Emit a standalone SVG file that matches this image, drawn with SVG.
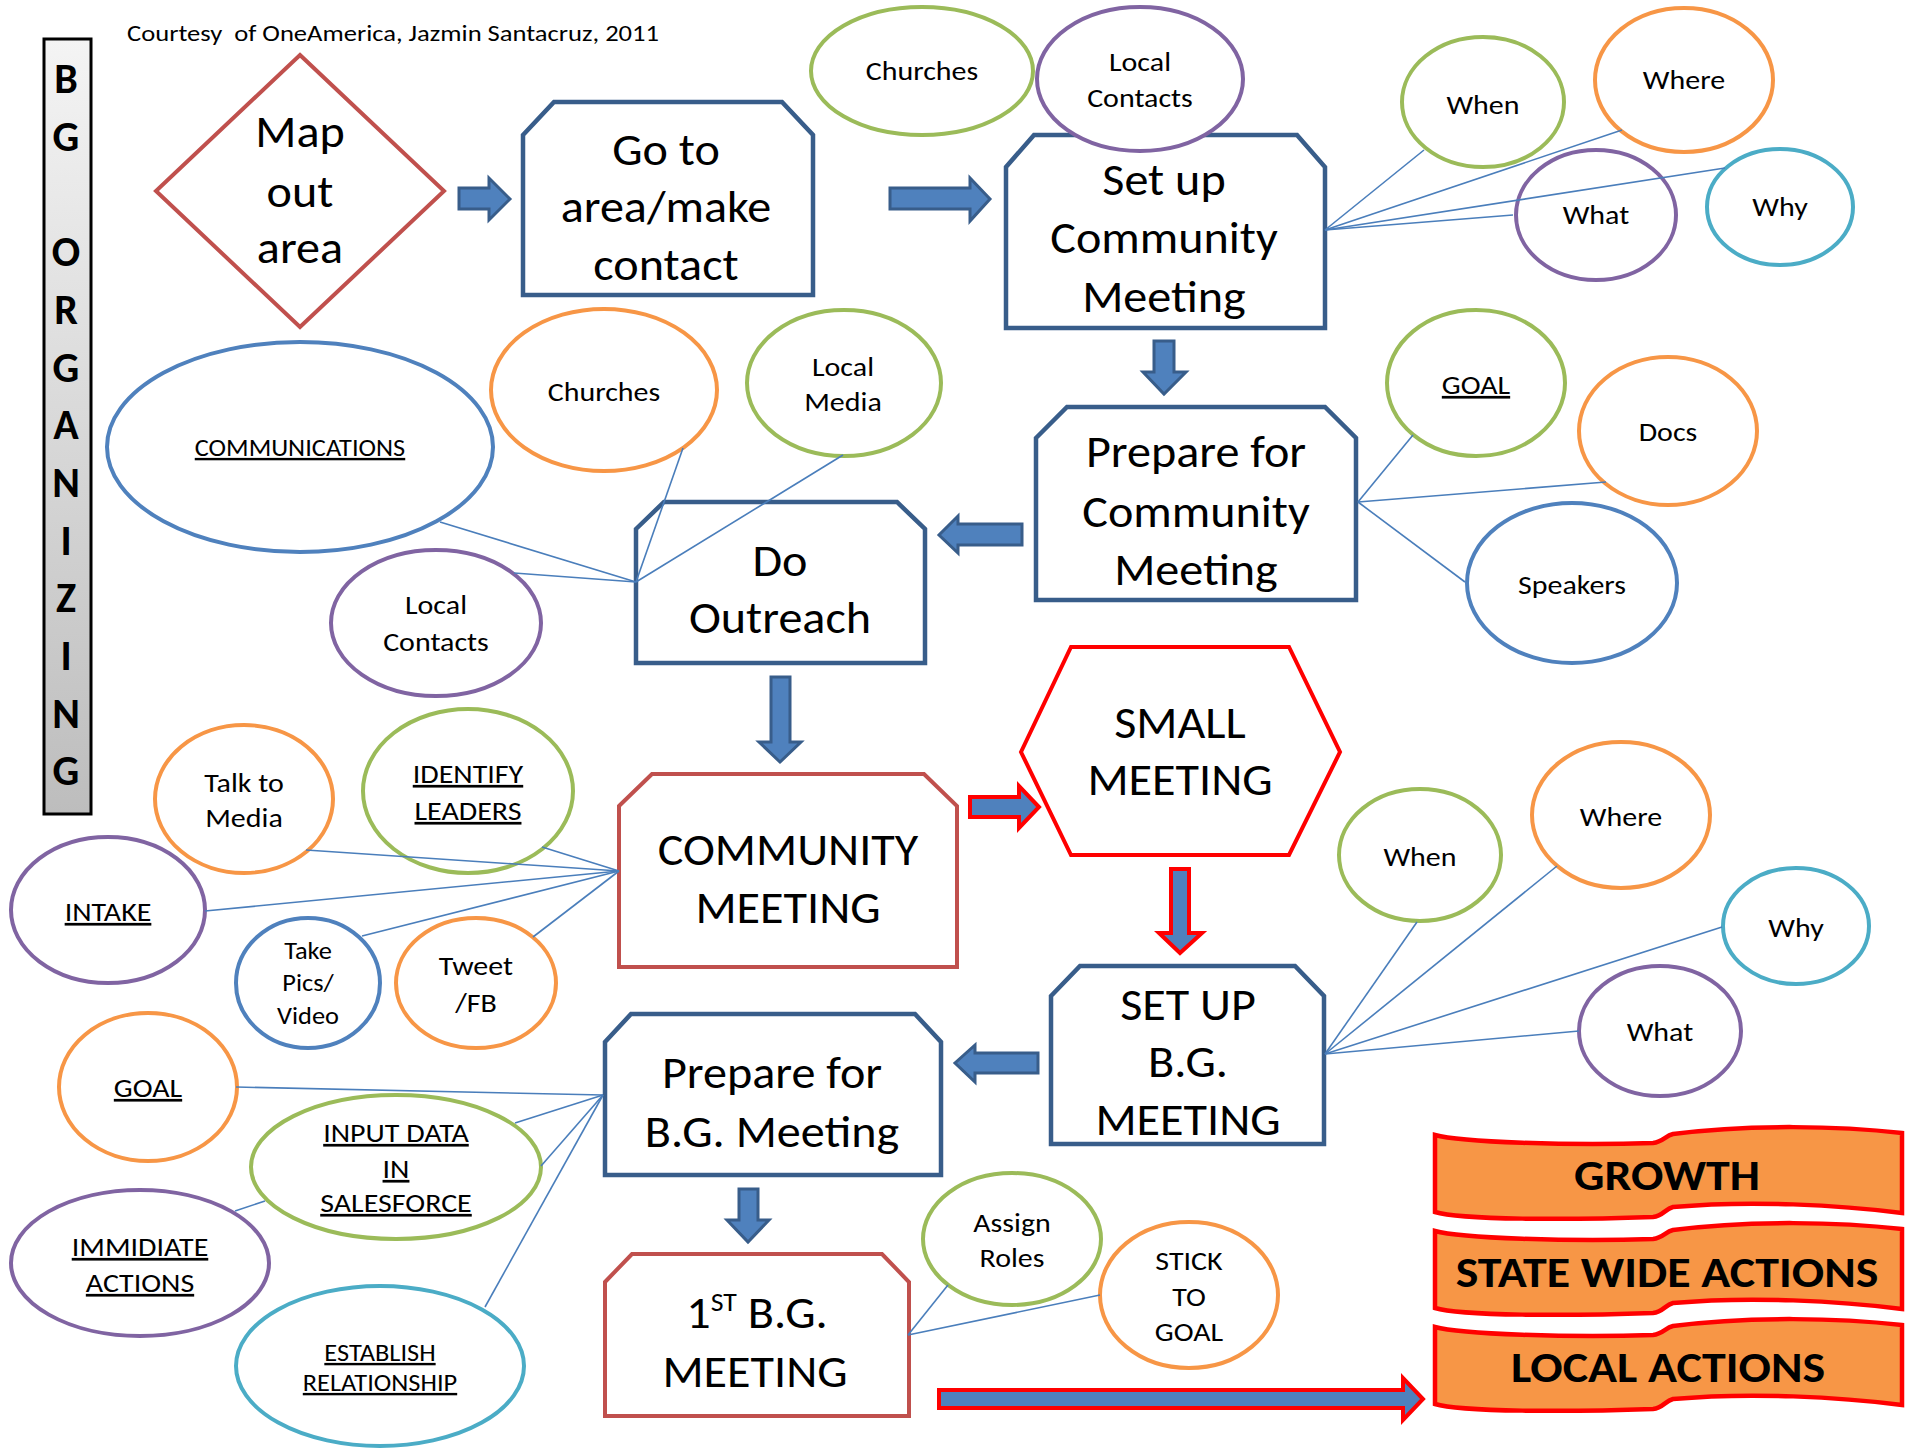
<svg xmlns="http://www.w3.org/2000/svg" width="1912" height="1453" viewBox="0 0 1912 1453">
<defs>
<linearGradient id="barg" x1="0" y1="0" x2="0" y2="1">
<stop offset="0" stop-color="#F4F4F4"/>
<stop offset="1" stop-color="#BDBDBD"/>
</linearGradient>
<path id="banner" d="M15,15 C40,22 150,26 233,23 C243,22 245,16 253,14 C330,4 420,6 482,13 L482,93 C420,85 330,80 253,87 C245,89 243,96 233,97 C150,100 40,100 15,92 Z"/>
</defs>
<style>
text{font-family:Carlito,Lato,"Liberation Sans",sans-serif;fill:#000;text-anchor:middle}
.big,.lbl,.sm,.ban{transform-box:fill-box;transform-origin:center}
.big{font-size:45px;transform:scaleX(1.07)}
.lbl{font-size:27px;transform:scaleX(1.11)}
.sm{font-size:24px;transform:scaleX(1.1)}
.u{text-decoration:underline}
.bar{font-size:42px;font-weight:bold}
.ban{font-size:42px;font-weight:bold;transform:scaleX(1.14)}
.bbox{fill:#fff;stroke:#385D8A;stroke-width:4.5}
.rbox{fill:#fff;stroke:#C0504D;stroke-width:4}
.ell{fill:#fff;stroke-width:4}
.g{stroke:#9BBB59}.p{stroke:#8064A2}.o{stroke:#F79646}.b{stroke:#4F81BD}.t{stroke:#4BACC6}
.arr{fill:#4F81BD;stroke:#385D8A;stroke-width:3}
.rarr{fill:#4F81BD;stroke:#FF0000;stroke-width:4}
.con line{stroke:#4A7EBB;stroke-width:1.6}
.bn{fill:#F79646;stroke:#FF0000;stroke-width:4.5}
</style>
<rect width="1912" height="1453" fill="#fff"/>

<text x="127" y="41" xml:space="preserve" style="font-size:22px;text-anchor:start;white-space:pre" textLength="532" lengthAdjust="spacingAndGlyphs">Courtesy  of OneAmerica, Jazmin Santacruz, 2011</text>

<g id="bg-organizing">
<rect x="44" y="39" width="47" height="775" fill="url(#barg)" stroke="#000" stroke-width="3"/>
<text class="bar" x="66" y="93">B</text>
<text class="bar" x="66" y="151">G</text>
<text class="bar" x="66" y="266">O</text>
<text class="bar" x="66" y="324">R</text>
<text class="bar" x="66" y="382">G</text>
<text class="bar" x="66" y="439">A</text>
<text class="bar" x="66" y="497">N</text>
<text class="bar" x="66" y="555">I</text>
<text class="bar" x="66" y="612">Z</text>
<text class="bar" x="66" y="670">I</text>
<text class="bar" x="66" y="728">N</text>
<text class="bar" x="66" y="785">G</text>
</g>

<g id="map-out-area">
<polygon class="rbox" points="300,55 444,191 300,327 156,191"/>
<text class="big" x="300" y="147">Map</text>
<text class="big" x="300" y="207">out</text>
<text class="big" x="300" y="263">area</text>
</g>

<g id="go-to-area">
<path class="bbox" d="M523,135 L554,102 L782,102 L813,135 L813,295 L523,295 Z"/>
<text class="big" x="666" y="165">Go to</text>
<text class="big" x="666" y="222">area/make</text>
<text class="big" x="666" y="280">contact</text>
</g>

<g id="churches-top">
<ellipse class="ell g" cx="922" cy="71" rx="111" ry="64"/>
<text class="lbl" x="922" y="80">Churches</text>
</g>

<g id="setup-community-meeting">
<path class="bbox" d="M1006,167 L1034,135 L1297,135 L1325,167 L1325,328 L1006,328 Z"/>
<text class="big" x="1164" y="195">Set up</text>
<text class="big" x="1164" y="253">Community</text>
<text class="big" x="1164" y="312">Meeting</text>
</g>

<g id="local-contacts-top">
<ellipse class="ell p" cx="1140" cy="79" rx="103" ry="72"/>
<text class="lbl" x="1140" y="71">Local</text>
<text class="lbl" x="1140" y="107">Contacts</text>
</g>

<g id="when-1"><ellipse class="ell g" cx="1483" cy="102" rx="81" ry="65"/><text class="lbl" x="1483" y="114">When</text></g>
<g id="where-1"><ellipse class="ell o" cx="1684" cy="80" rx="89" ry="72"/><text class="lbl" x="1684" y="89">Where</text></g>
<g id="what-1"><ellipse class="ell p" cx="1596" cy="215" rx="80" ry="65"/><text class="lbl" x="1596" y="224">What</text></g>
<g id="why-1"><ellipse class="ell t" cx="1780" cy="207" rx="73" ry="58"/><text class="lbl" x="1780" y="216">Why</text></g>

<g id="prepare-community-meeting">
<path class="bbox" d="M1036,438 L1067,407 L1325,407 L1356,438 L1356,600 L1036,600 Z"/>
<text class="big" x="1196" y="467">Prepare for</text>
<text class="big" x="1196" y="527">Community</text>
<text class="big" x="1196" y="585">Meeting</text>
</g>

<g id="goal-1"><ellipse class="ell g" cx="1476" cy="383" rx="89" ry="73"/><text class="lbl u" x="1476" y="394">GOAL</text></g>
<g id="docs"><ellipse class="ell o" cx="1668" cy="431" rx="89" ry="74"/><text class="lbl" x="1668" y="441">Docs</text></g>
<g id="speakers"><ellipse class="ell b" cx="1572" cy="583" rx="105" ry="80"/><text class="lbl" x="1572" y="594">Speakers</text></g>

<g id="communications"><ellipse class="ell b" cx="300" cy="447" rx="193" ry="105"/><text class="sm u" x="300" y="456">COMMUNICATIONS</text></g>
<g id="churches"><ellipse class="ell o" cx="604" cy="390" rx="113" ry="81"/><text class="lbl" x="604" y="401">Churches</text></g>
<g id="local-media"><ellipse class="ell g" cx="844" cy="383" rx="97" ry="73"/><text class="lbl" x="843" y="376">Local</text><text class="lbl" x="843" y="411">Media</text></g>
<g id="local-contacts"><ellipse class="ell p" cx="436" cy="623" rx="105" ry="73"/><text class="lbl" x="436" y="614">Local</text><text class="lbl" x="436" y="651">Contacts</text></g>

<g id="do-outreach">
<path class="bbox" d="M636,529 L664,502 L897,502 L925,529 L925,663 L636,663 Z"/>
<text class="big" x="780" y="576">Do</text>
<text class="big" x="780" y="633">Outreach</text>
</g>

<g id="community-meeting">
<path class="rbox" d="M619,806 L652,774 L924,774 L957,806 L957,967 L619,967 Z"/>
<text class="big" x="788" y="865">COMMUNITY</text>
<text class="big" x="788" y="923">MEETING</text>
</g>

<g id="talk-to-media"><ellipse class="ell o" cx="244" cy="799" rx="89" ry="74"/><text class="lbl" x="244" y="792">Talk to</text><text class="lbl" x="244" y="827">Media</text></g>
<g id="identify-leaders"><ellipse class="ell g" cx="468" cy="791" rx="105" ry="82"/><text class="lbl u" x="468" y="783">IDENTIFY</text><text class="lbl u" x="468" y="820">LEADERS</text></g>
<g id="intake"><ellipse class="ell p" cx="108" cy="910" rx="97" ry="73"/><text class="lbl u" x="108" y="921">INTAKE</text></g>
<g id="take-pics"><ellipse class="ell b" cx="308" cy="983" rx="72" ry="65"/><text class="sm" x="308" y="959">Take</text><text class="sm" x="308" y="991">Pics/</text><text class="sm" x="308" y="1024">Video</text></g>
<g id="tweet-fb"><ellipse class="ell o" cx="476" cy="983" rx="80" ry="65"/><text class="lbl" x="476" y="975">Tweet</text><text class="lbl" x="476" y="1012">/FB</text></g>

<g id="small-meeting">
<polygon points="1021,752 1071,647 1289,647 1340,752 1289,855 1071,855" fill="#fff" stroke="#FF0000" stroke-width="4"/>
<text class="big" x="1180" y="738">SMALL</text>
<text class="big" x="1180" y="795">MEETING</text>
</g>

<g id="setup-bg-meeting">
<path class="bbox" d="M1051,996 L1080,966 L1295,966 L1324,996 L1324,1144 L1051,1144 Z"/>
<text class="big" x="1188" y="1020">SET UP</text>
<text class="big" x="1188" y="1077">B.G.</text>
<text class="big" x="1188" y="1135">MEETING</text>
</g>

<g id="when-2"><ellipse class="ell g" cx="1420" cy="855" rx="81" ry="66"/><text class="lbl" x="1420" y="866">When</text></g>
<g id="where-2"><ellipse class="ell o" cx="1621" cy="815" rx="89" ry="73"/><text class="lbl" x="1621" y="826">Where</text></g>
<g id="why-2"><ellipse class="ell t" cx="1796" cy="926" rx="73" ry="58"/><text class="lbl" x="1796" y="937">Why</text></g>
<g id="what-2"><ellipse class="ell p" cx="1660" cy="1031" rx="81" ry="65"/><text class="lbl" x="1660" y="1041">What</text></g>

<g id="prepare-bg-meeting">
<path class="bbox" d="M605,1042 L631,1014 L915,1014 L941,1042 L941,1175 L605,1175 Z"/>
<text class="big" x="772" y="1088">Prepare for</text>
<text class="big" x="772" y="1147">B.G. Meeting</text>
</g>

<g id="goal-2"><ellipse class="ell o" cx="148" cy="1087" rx="89" ry="74"/><text class="lbl u" x="148" y="1097">GOAL</text></g>
<g id="input-data"><ellipse class="ell g" cx="396" cy="1167" rx="145" ry="72"/><text class="lbl u" x="396" y="1142">INPUT DATA</text><text class="lbl u" x="396" y="1178">IN</text><text class="lbl u" x="396" y="1212">SALESFORCE</text></g>
<g id="immidiate-actions"><ellipse class="ell p" cx="140" cy="1263" rx="129" ry="73"/><text class="lbl u" x="140" y="1256">IMMIDIATE</text><text class="lbl u" x="140" y="1292">ACTIONS</text></g>
<g id="establish-relationship"><ellipse class="ell t" cx="380" cy="1366" rx="144" ry="80"/><text class="sm u" x="380" y="1361">ESTABLISH</text><text class="sm u" x="380" y="1391">RELATIONSHIP</text></g>

<g id="first-bg-meeting">
<path class="rbox" d="M605,1282 L632,1254 L882,1254 L909,1282 L909,1416 L605,1416 Z"/>
<text class="big" x="757" y="1328">1<tspan font-size="26" dy="-17">ST</tspan><tspan dy="17"> B.G.</tspan></text>
<text class="big" x="755" y="1387">MEETING</text>
</g>

<g id="assign-roles"><ellipse class="ell g" cx="1012" cy="1239" rx="89" ry="66"/><text class="lbl" x="1012" y="1232">Assign</text><text class="lbl" x="1012" y="1267">Roles</text></g>
<g id="stick-to-goal"><ellipse class="ell o" cx="1189" cy="1295" rx="89" ry="73"/><text class="lbl" x="1189" y="1270">STICK</text><text class="lbl" x="1189" y="1306">TO</text><text class="lbl" x="1189" y="1341">GOAL</text></g>

<g id="growth"><use href="#banner" class="bn" transform="translate(1420,1120)"/><text class="ban" x="1667" y="1190">GROWTH</text></g>
<g id="state-wide-actions"><use href="#banner" class="bn" transform="translate(1420,1216)"/><text class="ban" x="1667" y="1287">STATE WIDE ACTIONS</text></g>
<g id="local-actions"><use href="#banner" class="bn" transform="translate(1420,1312)"/><text class="ban" x="1668" y="1382">LOCAL ACTIONS</text></g>

<g id="connectors">
<g class="con">
<line x1="1325" y1="230" x2="1424" y2="150"/>
<line x1="1325" y1="230" x2="1622" y2="130"/>
<line x1="1325" y1="230" x2="1725" y2="168"/>
<line x1="1325" y1="230" x2="1513" y2="215"/>
<line x1="1358" y1="502" x2="1413" y2="435"/>
<line x1="1358" y1="502" x2="1606" y2="482"/>
<line x1="1358" y1="502" x2="1465" y2="582"/>
<line x1="636" y1="582" x2="440" y2="522"/>
<line x1="636" y1="582" x2="514" y2="573"/>
<line x1="636" y1="582" x2="683" y2="448"/>
<line x1="636" y1="582" x2="843" y2="455"/>
<line x1="619" y1="871" x2="306" y2="850"/>
<line x1="619" y1="871" x2="542" y2="847"/>
<line x1="619" y1="871" x2="205" y2="911"/>
<line x1="619" y1="871" x2="362" y2="936"/>
<line x1="619" y1="871" x2="533" y2="937"/>
<line x1="1325" y1="1054" x2="1417" y2="922"/>
<line x1="1325" y1="1054" x2="1557" y2="866"/>
<line x1="1325" y1="1054" x2="1722" y2="927"/>
<line x1="1325" y1="1054" x2="1579" y2="1031"/>
<line x1="603" y1="1095" x2="236" y2="1087"/>
<line x1="603" y1="1095" x2="541" y2="1166"/>
<line x1="603" y1="1095" x2="515" y2="1123"/>
<line x1="265" y1="1201" x2="235" y2="1211"/>
<line x1="603" y1="1095" x2="485" y2="1307"/>
<line x1="908" y1="1335" x2="948" y2="1285"/>
<line x1="908" y1="1335" x2="1100" y2="1295"/>
</g>
<polygon class="arr" points="459,188 489,188 489,178 510,199 489,220 489,209 459,209"/>
<polygon class="arr" points="890,188 970,188 970,178 990,199 970,221 970,209 890,209"/>
<polygon class="arr" points="1154,341 1174,341 1174,372 1186,372 1164,394 1143,372 1154,372"/>
<polygon class="arr" points="1022,524 958,524 958,516 939,535 958,553 958,545 1022,545"/>
<polygon class="arr" points="771,677 790,677 790,742 801,742 780,762 759,742 771,742"/>
<polygon class="rarr" points="970,797 1019,797 1019,786 1039,807 1019,828 1019,817 970,817"/>
<polygon class="rarr" points="1171,869 1189,869 1189,933 1202,933 1180,953 1159,933 1171,933"/>
<polygon class="arr" points="1038,1053 975,1053 975,1045 955,1063 975,1082 975,1073 1038,1073"/>
<polygon class="arr" points="739,1189 758,1189 758,1220 769,1220 748,1242 727,1220 739,1220"/>
<polygon class="rarr" points="939,1390 1403,1390 1403,1378 1423,1399 1403,1420 1403,1408 939,1408"/>
</g>
</svg>
